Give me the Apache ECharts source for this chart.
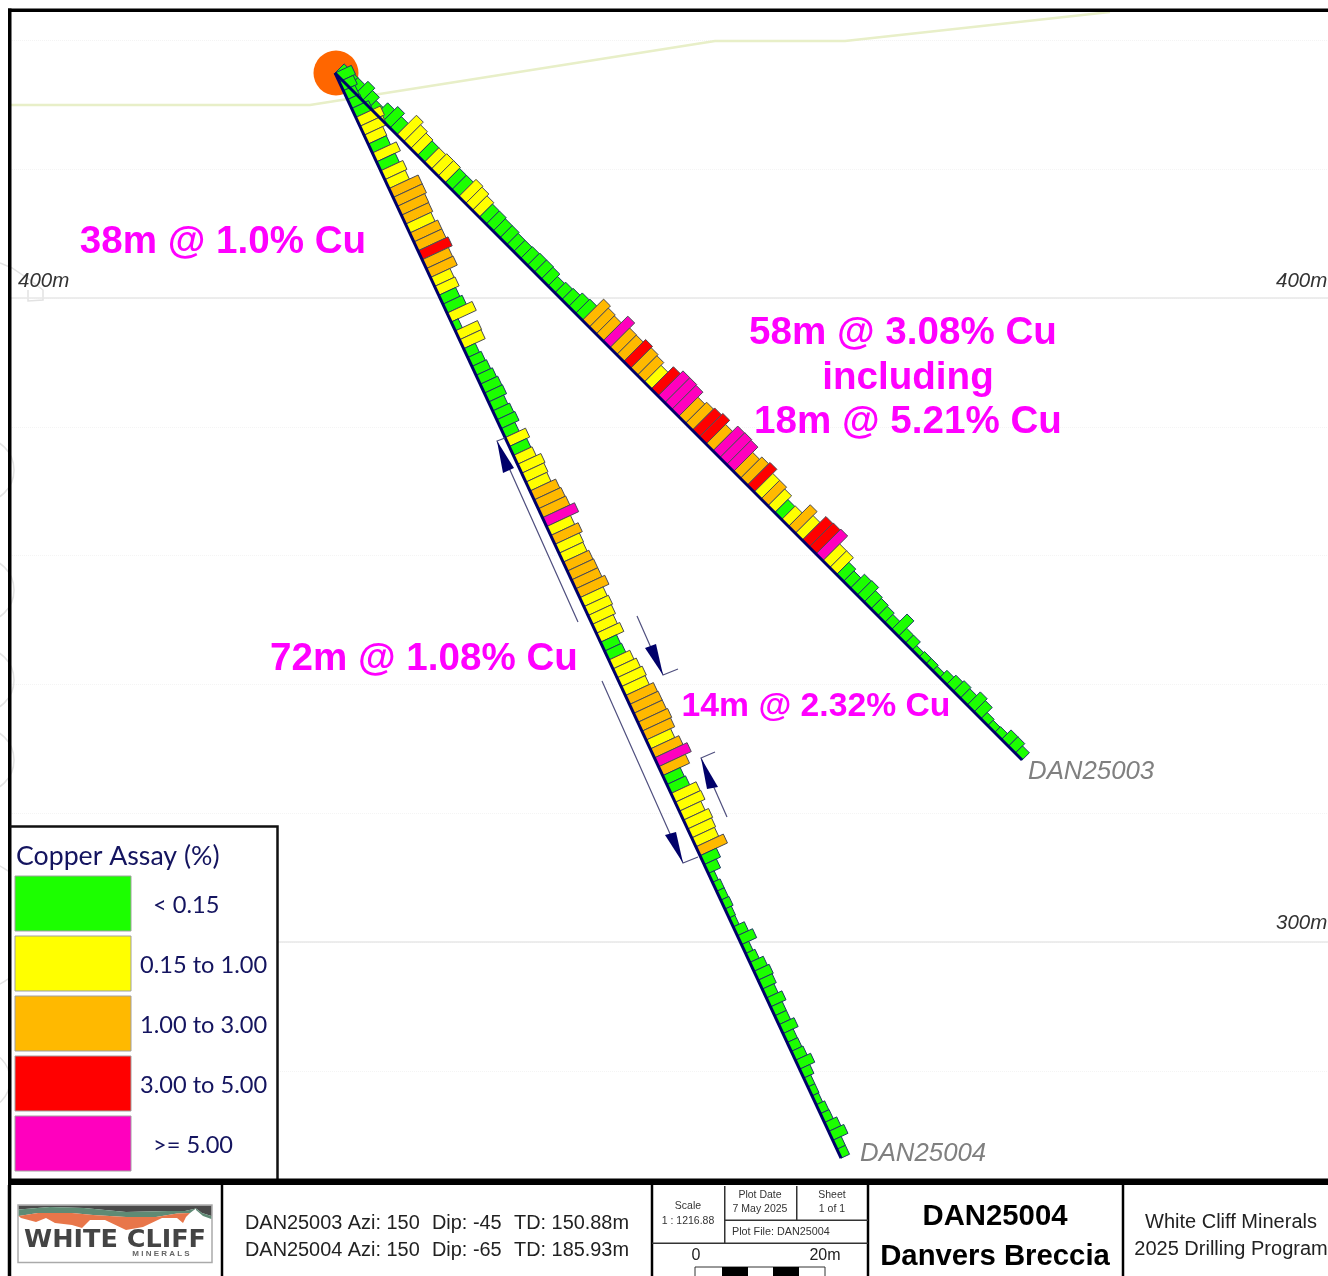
<!DOCTYPE html>
<html><head><meta charset="utf-8">
<style>html,body{margin:0;padding:0;background:#fff}#c{width:1328px;height:1276px}</style>
<script src="https://cdn.jsdelivr.net/npm/echarts@6/dist/echarts.min.js"></script>
</head><body><div id="c"></div>
<script>
// Assay classes, top to bottom of each hole
const classNames = ['< 0.15','0.15 to 1.00','1.00 to 3.00','3.00 to 5.00','>= 5.00'];
const classColors = {G:'#1cff00',Y:'#ffff00',O:'#ffb900',R:'#ff0000',P:'#ff00be'};
const legendKeys = ['G','Y','O','R','P'];

const hole03Classes = ['G','G','G','G','G','G','G','G','G','Y','Y','Y','G','Y','Y','Y','G','G','Y','Y','Y',
 'G','G','G','G','G','G','G','G','G','G','G','G','G','G','G',
 'O','O','O','P','O','O','R','O','O','Y','R','P','P','P','O','O','R','R','O','P','P','P','O','O','R','Y','O','Y','G','Y','O','Y','R','R','P','Y','Y',
 'G','G','G','G','G','G','G','G','G','G','G','G','G','G','G','G','G','G','G','G','G','G','G','G','G','G','G'];
const hole03Bars = [2,2,2,2.7,2.2,1.5,2.5,3.2,2.5,4.3,3.7,3.4,3.2,3.2,3.4,3.4,3.2,3.2,3.8,3.6,3.2,
 2.9,2.9,2.7,2.7,2.5,2.5,2.6,2.7,2.7,2.6,2.1,2.35,2.5,3,3.15,
 4.66,4.2,4,5.45,4.35,4.3,4.84,4.55,4.3,3.7,4.9,5.5,5.5,5.35,4.25,4.65,4.9,5.2,4.3,5.45,5.5,5.35,4.2,4.7,5,4.1,4.1,3.7,2.9,3,4.77,3.9,5.2,5.3,5.45,3.7,3.7,
 2.7,2.3,3.1,3.2,2.5,2.3,2.1,1.8,3.4,1.8,1.8,1,1.2,1.2,1,1.6,2.05,2.35,2.1,2.9,2.5,1.4,1.2,1.3,2.1,2.1,1.6];

const hole04Classes = ['G','G','G','G','G','Y','Y','Y','G','Y','G','Y','Y','O','O','O','O','Y','O','O','R','O','O','Y','Y','G','G','Y','G','Y','Y',
 'G','G','G','G','G','G','G','G','G','G','Y','G','Y','Y','Y','Y','O','O','O','P','Y','O','Y','Y','O','O','O','O',
 'Y','Y','Y','Y','Y','G','G','Y','Y','Y','Y','O','O','O','O','O','Y','O','P','O','G','G','Y','Y','Y','Y','Y','Y','O','G','G',
 'G','G','G','G','G','G','G','G','G','G','G','G','G','G','G','G','G','G','G','G','G','G','G','G','G','G','G','G','G','G','G','G'];
const hole04Bars = [2.8,2.4,2,2.1,2.9,4.2,3.9,3.2,3.1,4.1,3.2,3.8,3.5,5,5,4.7,4.66,4.35,4.8,4.8,5.15,4.5,4.6,3.35,3.5,2.9,3.3,4.3,1.2,3.8,3.7,
 2,2.3,2.5,2.8,3,3.1,2.6,2.9,3.1,2.4,3.5,3,3.2,4,3.8,3.6,4.4,4.6,4.7,5.5,4.1,4.7,4.2,4.1,4.4,4.5,4.5,5,
 4,4.2,4,3.6,4,2.75,2.9,3.6,4,4.3,4.1,4.8,4.9,4.9,5.1,4.9,4.2,4.9,5.6,4.6,3,3.2,4.3,4.4,3.7,4.3,4.1,3.9,4.7,2.8,2.1,
 1,1.3,1.3,1.4,1.1,1,1.9,2.6,1.25,1.6,2.3,2.6,2.4,2,2.65,2,2,2.6,1.75,1.8,2,2.6,1.75,1.2,1.2,1.1,1.45,1.5,2.1,2.6,1.45,1.45];

// Section coordinates: metres along section, elevation in metres
const collarX = 50.47, collarZ = 434.94;
const hole03Dip = 45, hole03Depth = 150.88;
const hole04Dip = 65, hole04Depth = 185.93;
const topoX = [0,46.58,109.47,129.66,170.8];
const topoZ = [429.97,429.97,439.91,439.91,444.41];
const majorLevels = [400,300];

function rad(a){return a*Math.PI/180}
function barData(classes,bars,depth){
  const step = depth/classes.length;
  return classes.map((c,i)=>[i*step,(i+1)*step,bars[i],c]);
}
function barSeries(name,classes,bars,dip,depth){
  const cd=Math.cos(rad(dip)), sd=Math.sin(rad(dip));
  return {type:'custom',name,coordinateSystem:'cartesian2d',silent:true,animation:false,clip:false,z:4,
    data:barData(classes,bars,depth).map(r=>({value:[collarX,collarZ,r[0],r[1],r[2]],key:r[3]})),
    encode:{x:0,y:1},
    renderItem:function(p,api){
      const a=api.value(2),b=api.value(3),L=api.value(4);
      const pt=(d,o)=>api.coord([collarX+d*cd+o*sd,collarZ-d*sd+o*cd]);
      const k=classes[p.dataIndex];
      return {type:'polygon',shape:{points:[pt(a,0),pt(a,L),pt(b,L),pt(b,0)]},
        style:{fill:classColors[k],stroke:k==='G'?'#1c3a66':'#4a4a55',lineWidth:1}};
    }};
}
function traceSeries(name,dip,depth){
  return {type:'line',name,symbol:'none',silent:true,animation:false,z:5,clip:false,
    lineStyle:{color:'#00006a',width:3},
    data:[[collarX,collarZ],[collarX+depth*Math.cos(rad(dip)),collarZ-depth*Math.sin(rad(dip))]]};
}

// Page furniture
const g=[];
function T(x,y,s,o){o=o||{};g.push({type:'text',z:o.z||120,silent:true,x,y:y+3.2,style:{text:s,fill:o.c||'#111',
  font:(o.st||'normal')+' '+(o.w||'normal')+' '+(o.sz||20)+'px '+(o.f||'"Liberation Sans"'),
  textAlign:o.a||'left',textVerticalAlign:'middle',textBaseline:'middle'}})}
function R(x,y,w,h,fill,stroke,lw,z){g.push({type:'rect',z:z||110,silent:true,shape:{x,y,width:w,height:h},style:{fill:fill||'none',stroke:stroke||null,lineWidth:lw||0}})}
function PL(pts,c,lw,z){g.push({type:'polyline',z:z||115,silent:true,shape:{points:pts},style:{stroke:c,lineWidth:lw,fill:null}})}
function PG(pts,c,z){g.push({type:'polygon',z:z||116,silent:true,shape:{points:pts},style:{fill:c}})}

// faint contours left of the frame
[[-18,470,32],[-18,590,32],[-18,680,32],[-18,760,32],[-30,925,66],[-20,1080,30],[-25,1215,40]].forEach(c=>{
  g.push({type:'circle',z:1,silent:true,shape:{cx:c[0],cy:c[1],r:c[2]},style:{fill:'none',stroke:'#e2e2e2',lineWidth:1.5}});
});
PL([[0,263],[12,268],[30,280],[43,290],[43,300],[28,301],[28,290]],'#e2e2e2',1.5,1);

// frame
R(8,8.5,1320,3.5,'#000');
R(8,8.5,3.5,1172,'#000');

// annotations
const pink='#ff00ff';
const pk=(x,y,s,sz,a)=>T(x,y,s,{c:pink,w:'bold',sz:sz||38.6,a:a||'center'});
pk(223,239,'38m @ 1.0% Cu');
pk(903,330,'58m @ 3.08% Cu');
pk(908,375,'including');
pk(908,419,'18m @ 5.21% Cu');
pk(424,656,'72m @ 1.08% Cu');
pk(816,704,'14m @ 2.32% Cu',33.7);
T(18,278.5,'400m',{st:'italic',sz:20.5,c:'#333'});
T(1276,278.5,'400m',{st:'italic',sz:20.5,c:'#333'});
T(1276,920.5,'300m',{st:'italic',sz:20.5,c:'#333'});
T(1028,769,'DAN25003',{st:'italic',sz:25.8,c:'#808080'});
T(860,1151,'DAN25004',{st:'italic',sz:25.8,c:'#808080'});

// dimension arrows
const navy='#00006a', thin='#50507f';
PL([[505,438],[497,441],[578,622]],thin,1.2);
PG([[497,441],[503,473],[514,468]],navy);
PL([[602,681],[683,863],[698,857]],thin,1.2);
PG([[683,863],[665,835],[676,832]],navy);
PL([[637,616],[663,675],[678,669]],thin,1.2);
PG([[663,675],[645,648],[656,644]],navy);
PL([[715,752],[701,758],[727,817]],thin,1.2);
PG([[701,758],[707,789],[718,787]],navy);

// legend
R(10,826,268,355,'#fff','#000',0,108);
PL([[10,826.5],[277.5,826.5],[277.5,1180]],'#111',2.5,112);
T(16,853,'Copper Assay (%)',{f:'Lato',sz:26.7,c:'#14145f'});
legendKeys.forEach((k,i)=>{
  const y=876+i*60;
  R(15,y,116,55,classColors[k],'#a0a0a0',1,112);
  const lx=(i===0||i===4)?153:140;
  T(lx,y+26.5,classNames[i],{f:'Lato',sz:23.6,c:'#14145f'});
});

// title block
R(0,1181,1328,95,'#fff',null,0,108);
R(8,1178.5,1320,6.5,'#000',null,0,112);
[[9.5,3.5],[222,2.5],[652,2.5],[868,2.5],[1123,2.5]].forEach(v=>R(v[0]-v[1]/2,1185,v[1],91,'#000',null,0,112));
R(724,1186,1.5,57,'#333',null,0,112);
R(796,1186,1.5,34,'#333',null,0,112);
R(724,1219.5,144,1.5,'#333',null,0,112);
R(652,1242.5,216,1.5,'#333',null,0,112);
// info
[[1220,'DAN25003 Azi: 150','Dip: -45','TD: 150.88m'],[1247,'DAN25004 Azi: 150','Dip: -65','TD: 185.93m']].forEach(r=>{
  T(245,r[0],r[1],{sz:19.9,c:'#222'});T(432,r[0],r[2],{sz:19.9,c:'#222'});T(514,r[0],r[3],{sz:19.9,c:'#222'});
});
const sm={sz:10.5,c:'#333',a:'center'};
T(688,1203,'Scale',sm);T(688,1218,'1 : 1216.88',sm);
T(760,1192,'Plot Date',sm);T(760,1206,'7 May 2025',sm);
T(832,1192,'Sheet',sm);T(832,1206,'1 of 1',sm);
T(732,1229,'Plot File: DAN25004',{sz:10.8,c:'#333'});
T(696,1252,'0',{sz:16,c:'#222',a:'center'});T(825,1252,'20m',{sz:16,c:'#222',a:'center'});
R(695,1267,130,12,'#fff','#333',1,112);
R(722,1267,26,9,'#000',null,0,113);R(773,1267,26,9,'#000',null,0,113);
T(995,1214,'DAN25004',{w:'bold',sz:29.3,c:'#000',a:'center'});
T(995,1254,'Danvers Breccia',{w:'bold',sz:29.3,c:'#000',a:'center'});
T(1231,1219,'White Cliff Minerals',{sz:20,c:'#222',a:'center'});
T(1231,1246,'2025 Drilling Program',{sz:20,c:'#222',a:'center'});
// logo
R(18,1205,194,57.5,'#fff','#aaa',1.5,112);
PG([[18.7,1205.7],[211.3,1205.7],[211.3,1216],[202,1213],[196,1208.5],[185,1211],[168,1211],[126,1212],[84,1208],[50,1207],[18.7,1209.5]],'#4a4a4a',113);
PG([[18.7,1209.5],[50,1207],[84,1208],[126,1212],[168,1211],[185,1211],[196,1208.5],[190,1213],[177,1213.5],[156,1217],[126,1217],[93,1215],[72,1213],[38,1213],[18.7,1216]],'#5f8a74',114);
PG([[196,1208.5],[202,1213],[211.3,1216],[211.3,1219],[203,1216],[196,1210]],'#5f8a74',114);
PG([[18.7,1216],[38,1213],[72,1213],[93,1215],[126,1217],[156,1217],[177,1213.5],[190,1213],[186,1217],[183,1223],[177,1218],[162,1218],[143,1227],[126,1230],[105,1220],[90,1220],[82,1228],[72,1225],[55,1223],[46,1218],[36,1222],[21,1218]],'#e8764a',115);
T(115,1237,'WHITE CLIFF',{w:'bold',sz:25.5,c:'#444',a:'center',f:'"DejaVu Sans"'});
T(161,1251,'M I N E R A L S',{w:'bold',sz:8,c:'#666',a:'center'});

const chart=echarts.init(document.getElementById('c'),null,{renderer:'canvas'});
chart.setOption({
  animation:false,backgroundColor:'#fff',
  grid:{left:10,top:-88.4,width:1318,height:1416.8,containLabel:false,outerBoundsMode:'none'},
  xAxis:{type:'value',min:0,max:204.66,show:false,splitLine:{show:false}},
  yAxis:{type:'value',min:240,max:460,interval:20,
    axisLine:{show:false},axisTick:{show:false},axisLabel:{show:false},
    splitLine:{show:true,lineStyle:{color:'#f4f4f4',width:1,type:'dotted'}}},
  graphic:{elements:g},
  series:[
    {type:'line',name:'Major levels',symbol:'none',silent:true,z:2,lineStyle:{color:'#e8e8e8',width:1.5},
      data:[[0,majorLevels[0]],[204.66,majorLevels[0]],[null,null],[0,majorLevels[1]],[204.66,majorLevels[1]]],connectNulls:false},
    {type:'line',name:'Topography',symbol:'none',silent:true,z:2,lineStyle:{color:'#e8efc8',width:2.5},
      data:topoX.map((x,i)=>[x,topoZ[i]])},
    {type:'scatter',name:'Collar',silent:true,z:3,symbolSize:45,itemStyle:{color:'#ff6600',opacity:1},
      data:[[collarX+0.15,collarZ]]},
    barSeries('DAN25003',hole03Classes,hole03Bars,hole03Dip,hole03Depth),
    barSeries('DAN25004',hole04Classes,hole04Bars,hole04Dip,hole04Depth),
    traceSeries('DAN25003 trace',hole03Dip,hole03Depth),
    traceSeries('DAN25004 trace',hole04Dip,hole04Depth)
  ]
});
</script></body></html>
